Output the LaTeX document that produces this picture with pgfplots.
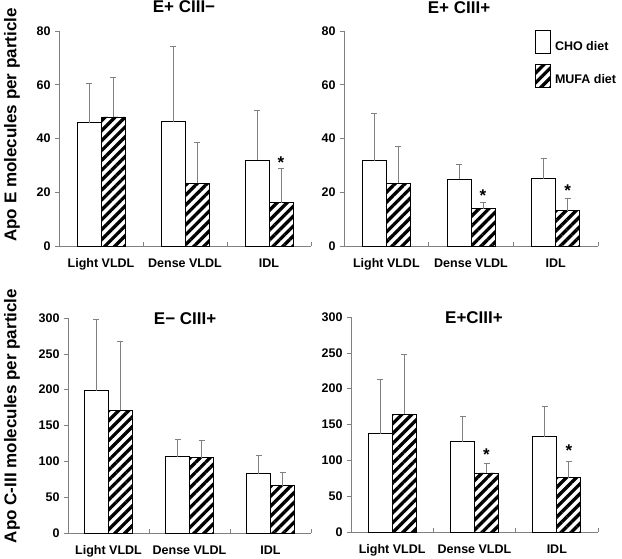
\documentclass[border=0pt]{standalone}
\usepackage{fontspec}
\setmainfont{Liberation Sans}
\usepackage{pgfplots}
\pgfplotsset{compat=1.18}
\usetikzlibrary{patterns.meta}

\newcommand{\tickfont}{\bfseries\fontsize{12.5}{14}\selectfont}
\newcommand{\titlefont}{\bfseries\fontsize{17}{19}\selectfont}

\pgfplotsset{
  panel/.style={
    scale only axis, height=215pt,
    axis x line*=bottom, axis y line*=left,
    axis line style={-, draw=gray, line width=0.8pt},
    xmin=-0.5, xmax=2.5,
    xtick={0,1,2}, xticklabels={Light VLDL,Dense VLDL,IDL},
    minor xtick={0.5,1.5,2.5},
    major x tick style={draw=none},
    minor x tick style={draw=gray, line width=0.6pt},
    xtick align=inside, ytick align=outside,
    minor tick length=4pt, major tick length=4pt,
    y tick style={draw=gray, line width=0.6pt},
    ymin=0,
    /pgf/number format/assume math mode=true,
    ticklabel style={font=\tickfont},
    xticklabel style={yshift=-9pt},
    yticklabel style={xshift=-1pt},
    title style={font=\titlefont, anchor=center},
    clip=false,
  },
  errs/.style={
    /pgfplots/error bars/y dir=plus, /pgfplots/error bars/y explicit,
    /pgfplots/error bars/error bar style={draw=gray, line width=0.8pt, xshift=#1},
    /pgfplots/error bars/error mark options={rotate=90, mark size=3pt, draw=gray, line width=0.8pt}},
  cho/.style={ybar, bar width=24pt, bar shift=-12pt, draw=black, fill=white, line width=0.8pt, errs=-12pt},
  mufa/.style={ybar, bar width=24pt, bar shift=12pt, draw=black, line width=0.8pt,
    pattern={Lines[angle=45, distance=7pt, line width=3.3pt]}, pattern color=black, errs=12pt},
  star/.style={draw=none, mark=none, nodes near coords={*},
    every node near coord/.append style={anchor=center, xshift=12pt, yshift=-3pt, font=\titlefont}},
}

\begin{document}
\begin{tikzpicture}
\useasboundingbox (0pt,0pt) rectangle (622pt,559pt);

% Panel 1: E+ CIII-
\begin{axis}[panel, at={(59pt,313pt)}, anchor=south west, width=252pt,
  ymax=80, ytick={0,20,40,60,80},
  title={E+ CIII−}, title style={at={(axis description cs:0.496,1)}, yshift=18pt}]
\addplot[cho] coordinates {(0,45.9) +- (0,14.5) (1,46.2) +- (0,28.2) (2,32.0) +- (0,18.5)};
\addplot[mufa] coordinates {(0,48.0) +- (0,14.6) (1,23.4) +- (0,15.1) (2,16.1) +- (0,12.6)};
\addplot[star] coordinates {(2,32.0)};
\end{axis}

% Panel 2: E+ CIII+
\begin{axis}[panel, at={(344pt,313pt)}, anchor=south west, width=254pt,
  ymax=80, ytick={0,20,40,60,80},
  title={E+ CIII+}, title style={at={(axis description cs:0.453,1)}, yshift=17pt},
  legend style={at={(axis description cs:0.752,1.005)}, anchor=north west, draw=none, fill=none,
    inner sep=0pt, row sep=8pt, font=\tickfont, legend cell align=left,
    nodes={inner sep=4pt}}]
\addlegendimage{legend image code/.code={\draw[black, line width=0.8pt, fill=white] (0pt,-7pt) rectangle (15pt,16pt);}}
\addlegendimage{legend image code/.code={\draw[black, line width=0.8pt, pattern={Lines[angle=45, distance=7pt, line width=3.3pt]}] (0pt,-7pt) rectangle (15pt,16pt);}}
\addplot[forget plot, cho] coordinates {(0,31.8) +- (0,17.6) (1,24.8) +- (0,5.5) (2,25.1) +- (0,7.4)};
\addplot[forget plot, mufa] coordinates {(0,23.4) +- (0,13.5) (1,13.9) +- (0,2.5) (2,13.2) +- (0,4.4)};
\addplot[forget plot, star] coordinates {(1,19.8) (2,21.7)};
\legend{CHO diet, MUFA diet}
\end{axis}

% Panel 3: E- CIII+
\begin{axis}[panel, at={(68pt,26pt)}, anchor=south west, width=243pt,
  ymax=300, ytick={0,50,100,150,200,250,300},
  title={E− CIII+}, title style={at={(axis description cs:0.482,1)}, yshift=-7pt}]
\addplot[cho] coordinates {(0,198.4) +- (0,100.2) (1,106.6) +- (0,23.7) (2,82.5) +- (0,25.1)};
\addplot[mufa] coordinates {(0,171.0) +- (0,97.0) (1,105.2) +- (0,23.7) (2,65.8) +- (0,19.0)};
\end{axis}

% Panel 4: E+CIII+
\begin{axis}[panel, at={(351pt,27pt)}, anchor=south west, width=247pt,
  ymax=300, ytick={0,50,100,150,200,250,300},
  title={E+CIII+}, title style={at={(axis description cs:0.498,1)}, yshift=-7pt}]
\addplot[cho] coordinates {(0,137.4) +- (0,75.5) (1,126.2) +- (0,35.0) (2,133.2) +- (0,41.9)};
\addplot[mufa] coordinates {(0,164.0) +- (0,83.4) (1,82.4) +- (0,14.0) (2,75.5) +- (0,23.7)};
\addplot[star] coordinates {(1,112.7) (2,117.4)};
\end{axis}

\node[rotate=90, font=\titlefont] at (12pt,434pt) {Apo E molecules per particle};
\node[rotate=90, font=\titlefont] at (12pt,143pt) {Apo C-III molecules per particle};
\end{tikzpicture}
\end{document}
